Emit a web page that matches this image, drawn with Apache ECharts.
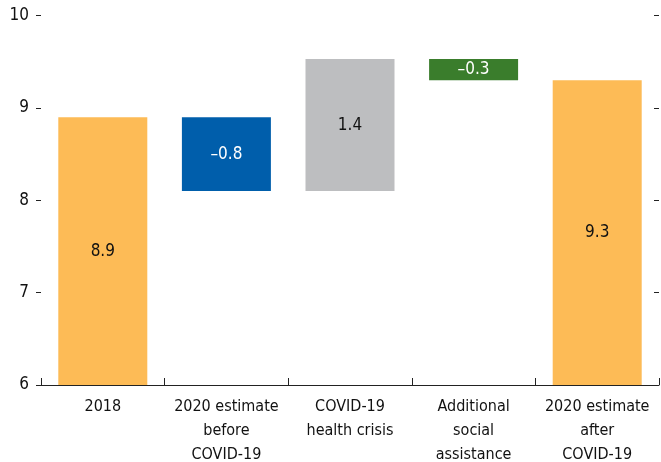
<!DOCTYPE html>
<html lang="en">
<head>
    <meta charset="UTF-8">
    <title>Waterfall</title>
    <style>
        html, body { margin: 0; padding: 0; background: #fff; }
        div#main { width: 661px; height: 462px; }
    </style>
</head>
<body>
    <div id="main"></div>
    <script src="https://cdn.jsdelivr.net/npm/echarts@6/dist/echarts.min.js"></script>
    <script>
        // categories and bar values
        const categories = ['2018', '2020 estimate\nbefore\nCOVID-19', 'COVID-19\nhealth crisis', 'Additional\nsocial\nassistance', '2020 estimate\nafter\nCOVID-19'];
        const barBottom = [0, 8.1, 8.1, 9.3, 0];
        const barTop = [8.9, 8.9, 9.53, 9.53, 9.3];
        const barLabels = ['8.9', '\u20130.8', '1.4', '\u20130.3', '9.3'];
        const barColors = ['#FDBB56', '#005EAB', '#BDBEC0', '#3A7D2C', '#FDBB56'];
        const labelColors = ['#111', '#fff', '#111', '#fff', '#111'];
        const yTicks = [6, 7, 8, 9, 10];

        const font = "'DejaVu Sans Condensed', 'Roboto', sans-serif";
        const myChart = echarts.init(document.getElementById('main'));

        const option = {
            animation: false,
            grid: { left: 41, right: 2, top: 15.7, bottom: 77, outerBoundsMode: 'none', containLabel: false },
            xAxis: {
                type: 'category',
                data: categories,
                axisLine: { lineStyle: { color: '#222', width: 1 } },
                axisTick: { show: true, inside: true, length: 7, interval: 0, lineStyle: { color: '#222' } },
                axisLabel: {
                    color: '#111', fontFamily: font, fontSize: 16,
                    lineHeight: 24, margin: 10, interval: 0
                }
            },
            yAxis: [
                {
                    type: 'value',
                    min: yTicks[0], max: yTicks[yTicks.length - 1], interval: 1,
                    axisLine: { show: false },
                    axisTick: { show: true, length: 5, lineStyle: { color: '#222' } },
                    splitLine: { show: false },
                    axisLabel: { color: '#111', fontFamily: font, fontSize: 17, margin: 12 }
                },
                {
                    type: 'value', position: 'right',
                    min: yTicks[0], max: yTicks[yTicks.length - 1], interval: 1,
                    axisLine: { show: false },
                    axisTick: { show: true, inside: true, length: 5, lineStyle: { color: '#222' } },
                    splitLine: { show: false },
                    axisLabel: { show: false }
                }
            ],
            series: [
                {
                    type: 'bar', stack: 'w', barWidth: 89,
                    itemStyle: { color: 'transparent' },
                    data: barBottom,
                    silent: true
                },
                {
                    type: 'bar', stack: 'w', barWidth: 89,
                    data: barTop.map((t, i) => ({
                        value: +(t - barBottom[i]).toFixed(3),
                        itemStyle: { color: barColors[i] },
                        label: { color: labelColors[i] }
                    })),
                    label: {
                        show: true, position: 'inside',
                        fontFamily: font, fontSize: 17,
                        formatter: p => barLabels[p.dataIndex]
                    }
                }
            ]
        };

        myChart.setOption(option);
    </script>
</body>
</html>
